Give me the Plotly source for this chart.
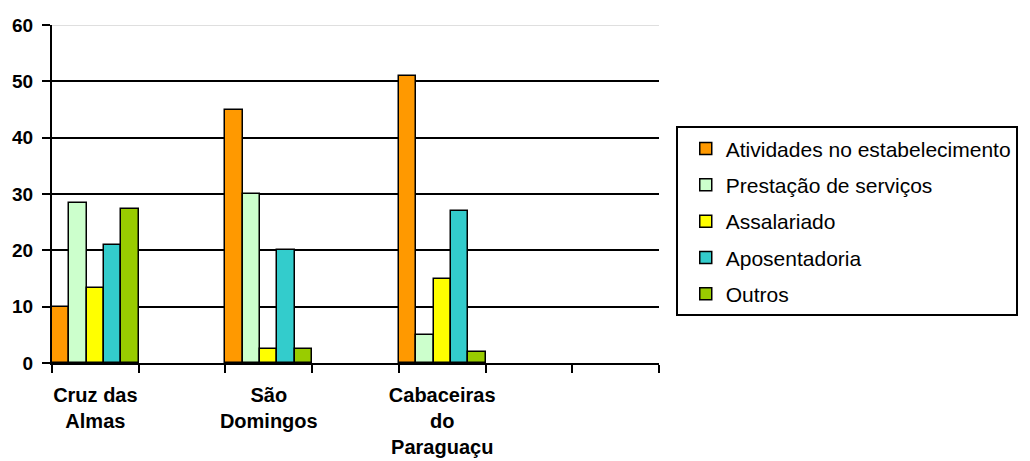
import plotly.graph_objects as go

# categories (blank slots are empty positions on the axis)
categories = [
    "Cruz das<br>Almas",
    " ",
    "São<br>Domingos",
    "  ",
    "Cabaceiras<br>do<br>Paraguaçu",
    "   ",
    "    ",
]

atividades = [10, None, 45, None, 51, None, None]
prestacao = [28.4, None, 30, None, 5, None, None]
assalariado = [13.3, None, 2.4, None, 15, None, None]
aposentadoria = [20.9, None, 20, None, 27, None, None]
outros = [27.3, None, 2.5, None, 2, None, None]

series = [
    ("Atividades no estabelecimento", atividades, "#FF9900"),
    ("Prestação de serviços", prestacao, "#CCFFCC"),
    ("Assalariado", assalariado, "#FFFF00"),
    ("Aposentadoria", aposentadoria, "#33CCCC"),
    ("Outros", outros, "#99CC00"),
]

y_ticks = [0, 10, 20, 30, 40, 50, 60]

FONT = "Liberation Sans, Arial, sans-serif"

fig = go.Figure()

for i, (name, values, color) in enumerate(series):
    fig.add_trace(
        go.Bar(
            x=categories,
            y=values,
            name=name,
            legendgroup=f"g{i}",
            marker=dict(color=color, line=dict(color="black", width=1.5)),
        )
    )

# light grey line along the top of the plot area
fig.add_shape(
    type="line",
    xref="paper",
    x0=0,
    x1=1,
    yref="y",
    y0=60,
    y1=60,
    line=dict(color="#C0C0C0", width=1),
    layer="above",
)

fig.update_layout(
    width=1030,
    height=461,
    template="none",
    barmode="group",
    bargap=0,
    bargroupgap=0,
    margin=dict(l=52, r=362, t=25, b=98),
    paper_bgcolor="white",
    plot_bgcolor="white",
    font=dict(family=FONT, color="black"),
    showlegend=True,
    legend=dict(
        x=1.0276,
        y=0.70,
        xanchor="left",
        yanchor="top",
        bordercolor="black",
        borderwidth=2,
        bgcolor="white",
        font=dict(family=FONT, size=21, color="black"),
        tracegroupgap=6,
        traceorder="grouped",
        indentation=8,
    ),
)

fig.update_xaxes(
    type="category",
    categoryorder="array",
    categoryarray=categories,
    range=[-0.5, 6.5],
    tickson="boundaries",
    tickangle=0,
    ticks="outside",
    ticklen=8,
    tickwidth=2,
    tickcolor="black",
    ticklabelstandoff=13,
    showgrid=False,
    showline=True,
    linecolor="black",
    linewidth=2,
    zeroline=False,
    automargin=False,
    tickfont=dict(family=FONT, size=20, color="black", weight="bold"),
)

fig.update_yaxes(
    range=[0, 60],
    tickvals=y_ticks,
    ticks="outside",
    ticklen=8,
    tickwidth=2,
    tickcolor="black",
    ticklabelstandoff=5,
    showgrid=True,
    gridcolor="black",
    gridwidth=2,
    showline=True,
    linecolor="black",
    linewidth=2,
    zeroline=False,
    automargin=False,
    tickfont=dict(family=FONT, size=19, color="black", weight="bold"),
)

# drop the browser's default 8px body margin so the figure fills the window
fig.write_html(
    "out.html",
    config={"displayModeBar": False},
    post_script="document.body.style.margin='0';document.body.style.overflow='hidden';",
)
